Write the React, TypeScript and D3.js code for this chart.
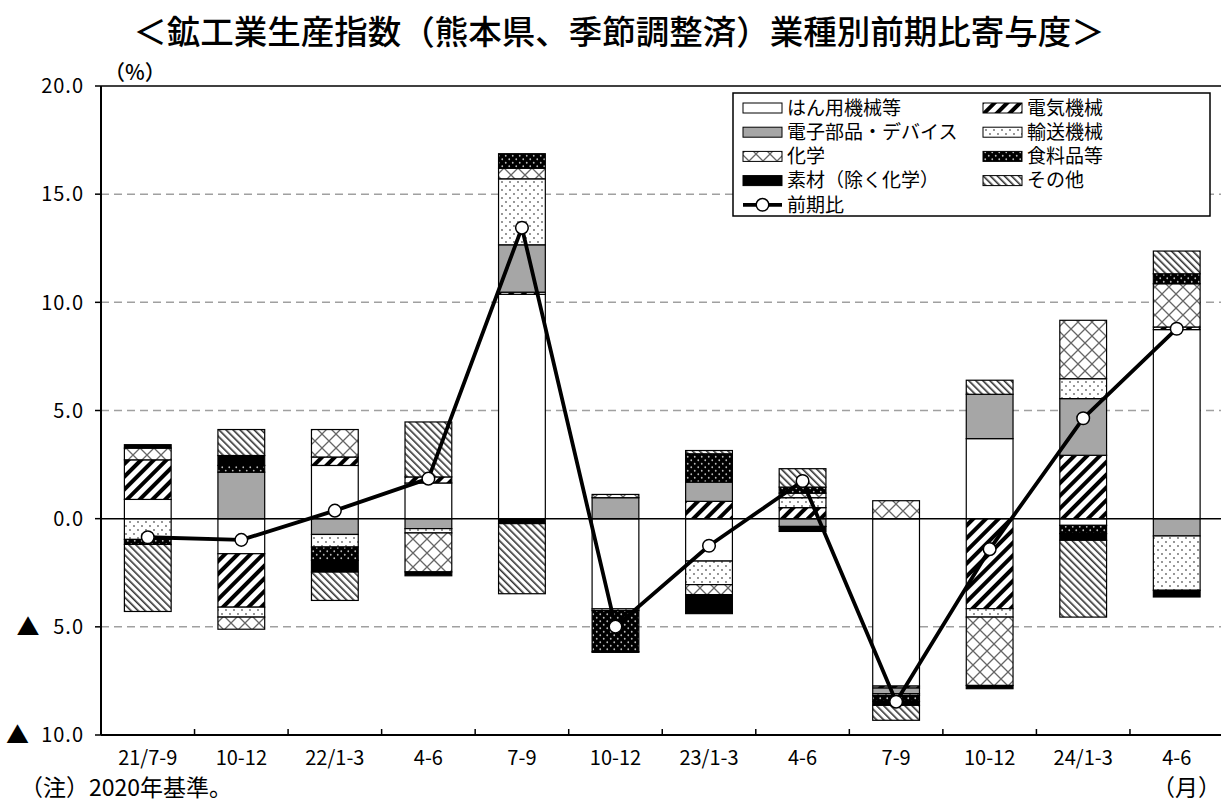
import React from 'react';
import * as d3 from 'd3';

const categories = ["21/7-9", "10-12", "22/1-3", "4-6", "7-9", "10-12", "23/1-3", "4-6", "7-9", "10-12", "24/1-3", "4-6"];
const seriesNames = ["はん用機械等", "電気機械", "電子部品・デバイス", "輸送機械", "化学", "食料品等", "素材（除く化学）", "その他"];
const generalMachinery = [0.89, -1.62, 2.46, 1.65, 10.37, -4.17, -1.96, 0, -7.74, 3.7, -0.31, 8.74];
const electrical = [1.83, -2.47, 0.39, 0.28, 0.1, 0, 0.8, 0.51, -0.09, -4.16, 2.93, 0.12];
const electronics = [0, 2.15, -0.73, -0.46, 2.19, 0.97, 0.89, -0.36, -0.26, 2.05, 2.62, -0.8];
const transport = [-0.96, -0.46, -0.58, -0.2, 3.05, -0.08, -1.09, 0.46, -0.08, -0.39, 0.92, -2.51];
const chemical = [0.54, -0.56, 1.27, -1.8, 0.49, 0.15, -0.46, 0.21, 0.83, -3.16, 2.7, 2.0];
const food = [-0.23, 0.31, -0.62, 0, 0.67, -1.9, 1.31, 0.28, -0.28, 0, -0.38, 0.46];
const materials = [0.16, 0.46, -0.54, -0.18, -0.23, -0.03, -0.88, -0.23, -0.18, -0.15, -0.31, -0.31];
const others = [-3.1, 1.2, -1.31, 2.54, -3.24, 0, 0.15, 0.85, -0.69, 0.65, -3.55, 1.05];
const lineName = "前期比";
const qoq = [-0.86, -0.98, 0.37, 1.85, 13.45, -4.99, -1.25, 1.74, -8.46, -1.41, 4.64, 8.78];
const yTicks = [20, 15, 10, 5, 0, -5, -10];

const seriesValues = [generalMachinery, electrical, electronics, transport, chemical, food, materials, others];
const fills = ['#ffffff', 'url(#pElec)', '#a6a6a6', 'url(#pTrans)', 'url(#pChem)', 'url(#pFood)', '#000000', 'url(#pOther)'];

const FONT = '"Noto Sans CJK JP", "Noto Sans", sans-serif';

export default function App() {
  const W = 1221, H = 804;
  const left = 101, right = 1223.5, top = 86, bottom = 735;
  const x = d3.scaleBand<string>()
    .domain(categories.map((_, i) => String(i)))
    .range([left, right])
    .paddingInner(0.5)
    .paddingOuter(0.25);
  const step = x.step();
  const y = d3.scaleLinear().domain([-10, 20]).range([bottom, top]);

  const keys = seriesNames.map((_, i) => String(i));
  const rows = categories.map((_, ci) => {
    const r: Record<string, number> = {};
    seriesValues.forEach((s, si) => { r[String(si)] = s[ci]; });
    return r;
  });
  const stacked = d3.stack<Record<string, number>>().keys(keys).offset(d3.stackOffsetDiverging)(rows);

  const lineGen = d3.line<number>()
    .x((_, i) => (x(String(i)) as number) + x.bandwidth() / 2)
    .y(d => y(d));

  const legendRowY = (r: number) => 108 + r * 24.2;
  const legendCols = [743, 983];

  const fmt = (v: number) => Math.abs(v).toFixed(1);

  return (
    <svg width={W} height={H} style={{ position: 'absolute', left: 0, top: 0, display: 'block', background: '#fff' }} fontFamily={FONT}>
      <defs>
        <pattern id="pElec" patternUnits="userSpaceOnUse" width="9" height="9" patternTransform="rotate(45)">
          <rect width="9" height="9" fill="#fff" />
          <rect x="0" y="0" width="4" height="9" fill="#000" />
        </pattern>
        <pattern id="pTrans" patternUnits="userSpaceOnUse" width="8" height="8">
          <rect width="8" height="8" fill="#fff" />
          <circle cx="2" cy="2" r="0.9" fill="#666" />
          <circle cx="6" cy="6" r="0.9" fill="#666" />
        </pattern>
        <pattern id="pChem" patternUnits="userSpaceOnUse" width="14" height="14">
          <rect width="14" height="14" fill="#fff" />
          <path d="M0,0L14,14M14,0L0,14" stroke="#666" strokeWidth="1.3" />
        </pattern>
        <pattern id="pFood" patternUnits="userSpaceOnUse" width="7" height="7">
          <rect width="7" height="7" fill="#000" />
          <circle cx="1.75" cy="1.75" r="0.9" fill="#bbb" />
          <circle cx="5.25" cy="5.25" r="0.9" fill="#bbb" />
        </pattern>
        <pattern id="pOther" patternUnits="userSpaceOnUse" width="5" height="5" patternTransform="rotate(-45)">
          <rect width="5" height="5" fill="#fff" />
          <rect x="0" y="0" width="1.6" height="5" fill="#333" />
        </pattern>
      </defs>

      {/* Title */}
      <text x={619} y={44} textAnchor="middle" fontSize={33.5} fontWeight={500} fill="#000">
        ＜鉱工業生産指数（熊本県、季節調整済）業種別前期比寄与度＞
      </text>
      <text x={104} y={80} fontSize={21} fontWeight={500} fill="#000">（%）</text>

      {/* Gridlines */}
      {yTicks.filter(t => t !== 0 && t !== 20 && t !== -10).map(t => (
        <line key={'g' + t} x1={left} x2={W} y1={y(t)} y2={y(t)} stroke="#a0a0a0" strokeWidth={1.5} strokeDasharray="8 5" />
      ))}
      <line x1={left} x2={W} y1={y(20)} y2={y(20)} stroke="#000" strokeWidth={1.5} />

      {/* Bars */}
      {stacked.map((series, si) => (
        <g key={'s' + si}>
          {series.map((d, ci) => {
            const v = seriesValues[si][ci];
            if (v === 0) return null;
            const y0 = y(d[0]), y1 = y(d[1]);
            return (
              <rect key={ci} x={x(String(ci))} width={x.bandwidth()}
                y={Math.min(y0, y1)} height={Math.abs(y1 - y0)}
                fill={fills[si]} stroke="#000" strokeWidth={1.2} />
            );
          })}
        </g>
      ))}

      {/* Zero line */}
      <line x1={left} x2={W} y1={y(0)} y2={y(0)} stroke="#000" strokeWidth={1.5} />

      {/* Axes */}
      <line x1={left} x2={left} y1={top} y2={bottom} stroke="#000" strokeWidth={2} />
      <line x1={left} x2={W} y1={bottom} y2={bottom} stroke="#000" strokeWidth={2} />
      {yTicks.map(t => (
        <line key={'yt' + t} x1={left - 6} x2={left} y1={y(t)} y2={y(t)} stroke="#000" strokeWidth={1.5} />
      ))}
      {categories.map((_, i) => i > 0 ? (
        <line key={'xt' + i} x1={(x(String(i)) as number) - step * 0.25} x2={(x(String(i)) as number) - step * 0.25}
          y1={bottom} y2={bottom - 6} stroke="#000" strokeWidth={1.5} />
      ) : null)}

      {/* Y labels */}
      {yTicks.map(t => {
        const s = fmt(t);
        return (
          <g key={'yl' + t}>
            <text x={84} y={y(t)} dy="0.36em" textAnchor="end" fontSize={20} letterSpacing={1} fill="#000">{s}</text>
            {t < 0 ? (
              <text x={84 - s.length * 10.5 - 13} y={y(t)} dy="0.36em" textAnchor="end" fontSize={23} fill="#000">▲</text>
            ) : null}
          </g>
        );
      })}

      {/* X labels */}
      {categories.map((c, i) => (
        <text key={'xl' + i} x={(x(String(i)) as number) + x.bandwidth() / 2} y={758} dy="0.36em"
          textAnchor="middle" fontSize={20} fill="#000">{c}</text>
      ))}

      {/* Line */}
      <path d={lineGen(qoq) || ''} fill="none" stroke="#000" strokeWidth={3.8} strokeLinejoin="round" />
      {qoq.map((v, i) => (
        <circle key={'c' + i} cx={(x(String(i)) as number) + x.bandwidth() / 2} cy={y(v)} r={6.3}
          fill="#fff" stroke="#000" strokeWidth={1.5} />
      ))}

      {/* Legend */}
      <rect x={733} y={93} width={477} height={123} fill="#fff" stroke="#000" strokeWidth={1.5} />
      {seriesNames.map((name, i) => {
        const col = i % 2, row = Math.floor(i / 2);
        const sx = legendCols[col];
        const cy = legendRowY(row);
        return (
          <g key={'lg' + i}>
            <rect x={sx} y={cy - 5} width={39} height={10} fill={fills[i]} stroke="#000" strokeWidth={1} />
            <text x={sx + 44} y={cy} dy="0.36em" fontSize={19} fill="#000">{name}</text>
          </g>
        );
      })}
      <g>
        <line x1={legendCols[0]} x2={legendCols[0] + 39} y1={legendRowY(4)} y2={legendRowY(4)} stroke="#000" strokeWidth={3.8} />
        <circle cx={legendCols[0] + 19.5} cy={legendRowY(4)} r={6.3} fill="#fff" stroke="#000" strokeWidth={1.5} />
        <text x={legendCols[0] + 44} y={legendRowY(4)} dy="0.36em" fontSize={19} fill="#000">{lineName}</text>
      </g>

      {/* Footnotes */}
      <text x={20} y={796} fontSize={23} fill="#000">（注）2020年基準。</text>
      <text x={1221} y={796} textAnchor="end" fontSize={23} fill="#000">（月）</text>
    </svg>
  );
}
